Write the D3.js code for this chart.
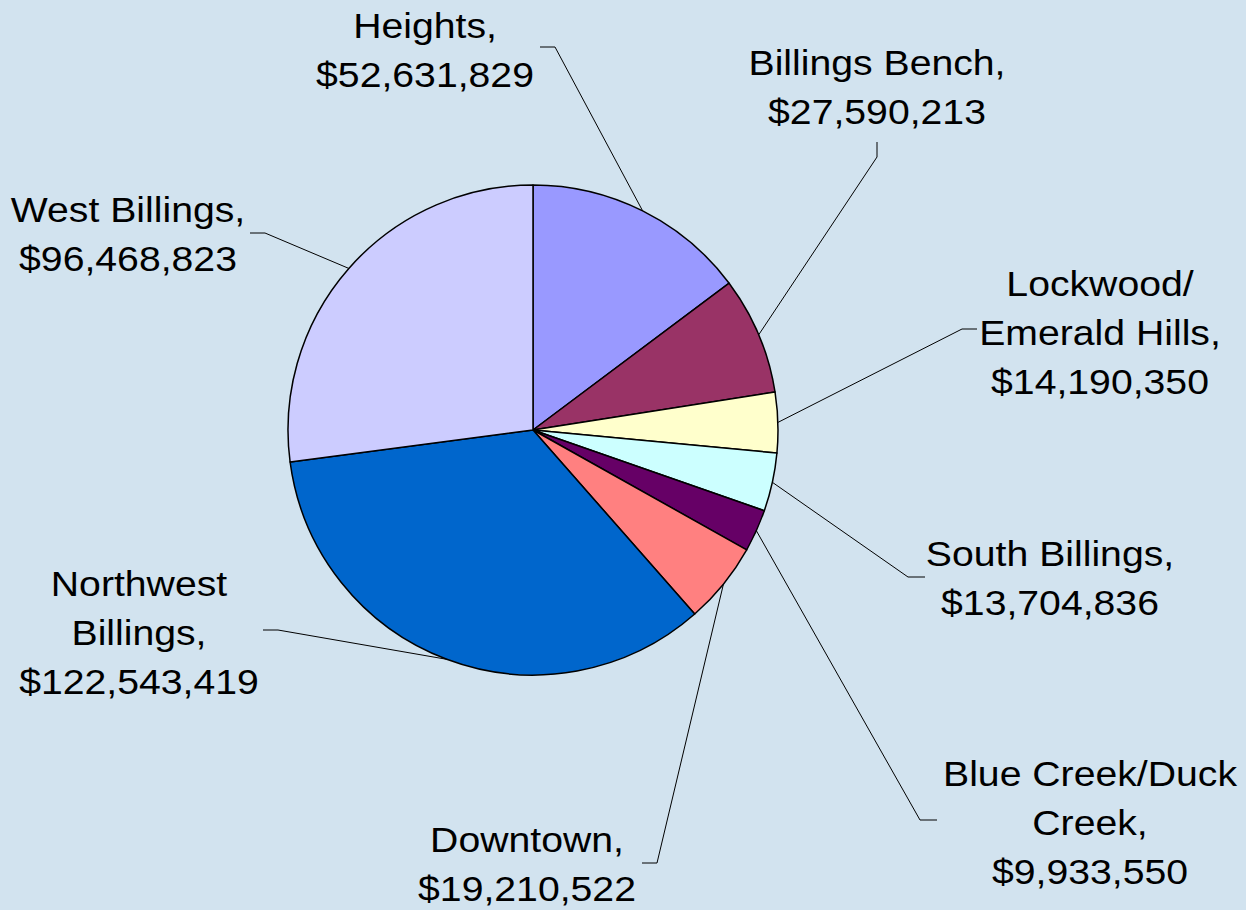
<!DOCTYPE html>
<html>
<head>
<meta charset="utf-8">
<script src="https://d3js.org/d3.v7.min.js"></script>
<style>
    body { margin: 0; background: #D2E3EF; }
    svg { display: block; }
</style>
</head>
<body>
<svg id="chart" width="1246" height="910"></svg>
<script>
// Data.
var areas = ['Heights', 'Billings Bench', 'Lockwood/ Emerald Hills', 'South Billings',
             'Blue Creek/Duck Creek', 'Downtown', 'Northwest Billings', 'West Billings'];
var values = [52631829, 27590213, 14190350, 13704836, 9933550, 19210522, 122543419, 96468823];
var colors = ['#9999FF', '#993366', '#FFFFCC', '#CCFFFF', '#660066', '#FF8080', '#0066CC', '#CCCCFF'];

// Label layout (lines of text, centre x, first baseline, leader elbow + end).
var labelLines = [
    ['Heights,'],
    ['Billings Bench,'],
    ['Lockwood/', 'Emerald Hills,'],
    ['South Billings,'],
    ['Blue Creek/Duck', 'Creek,'],
    ['Downtown,'],
    ['Northwest', 'Billings,'],
    ['West Billings,']
];
var labelLayout = [
    { x: 425, y: 38, elbow: [555, 47], end: [540, 47] },
    { x: 877, y: 75, elbow: [877, 157], end: [877, 142] },
    { x: 1100, y: 296, elbow: [962, 329], end: [977, 329] },
    { x: 1050, y: 566, elbow: [908, 577], end: [925, 577] },
    { x: 1090, y: 786, elbow: [920, 820], end: [937, 820] },
    { x: 527, y: 852, elbow: [657, 863], end: [642, 863] },
    { x: 139, y: 596, elbow: [278, 630], end: [263, 630] },
    { x: 128, y: 222, elbow: [265, 233], end: [250, 233] }
];

var width = 1246, height = 910;
var cx = 533, cy = 430, radius = 245;
var lineHeight = 49;
var textStretch = 1.12;

var svg = d3.select('#chart');

svg.append('rect')
    .attr('width', width)
    .attr('height', height)
    .attr('fill', '#D2E3EF');

var data = areas.map(function(name, i) {
    return { name: name, value: values[i], color: colors[i], index: i };
});

var pie = d3.pie()
    .sort(null)
    .value(function(d) { return d.value; });

var arc = d3.arc()
    .innerRadius(0)
    .outerRadius(radius);

var arcs = pie(data);
var fmt = d3.format('$,');

var g = svg.append('g')
    .attr('transform', 'translate(' + cx + ',' + cy + ')');

g.selectAll('path.slice')
    .data(arcs)
    .enter().append('path')
    .attr('class', 'slice')
    .attr('d', arc)
    .attr('fill', function(d) { return d.data.color; })
    .attr('stroke', '#000')
    .attr('stroke-width', 1.5)
    .attr('stroke-linejoin', 'round');

// Leader lines.
svg.selectAll('polyline.leader')
    .data(arcs)
    .enter().append('polyline')
    .attr('class', 'leader')
    .attr('fill', 'none')
    .attr('stroke', '#000')
    .attr('stroke-width', 1)
    .attr('points', function(d) {
        var a = (d.startAngle + d.endAngle) / 2;
        var p0 = [cx + radius * Math.sin(a), cy - radius * Math.cos(a)];
        var lay = labelLayout[d.data.index];
        return [p0, lay.elbow, lay.end].map(function(p) { return p.join(','); }).join(' ');
    });

// Labels (glyphs a little wider than the stock font, as in the original).
var labels = svg.selectAll('text.label')
    .data(arcs)
    .enter().append('text')
    .attr('class', 'label')
    .attr('text-anchor', 'middle')
    .attr('font-family', 'Liberation Sans, Arial, sans-serif')
    .attr('font-size', 35)
    .attr('fill', '#000')
    .attr('transform', function(d) {
        return 'translate(' + labelLayout[d.data.index].x + ',0) scale(' + textStretch + ',1)';
    });

labels.each(function(d) {
    var lay = labelLayout[d.data.index];
    var lines = labelLines[d.data.index].concat([fmt(d.data.value)]);
    var t = d3.select(this);
    lines.forEach(function(line, i) {
        t.append('tspan')
            .attr('x', 0)
            .attr('y', lay.y + i * lineHeight)
            .text(line);
    });
});
</script>
</body>
</html>
